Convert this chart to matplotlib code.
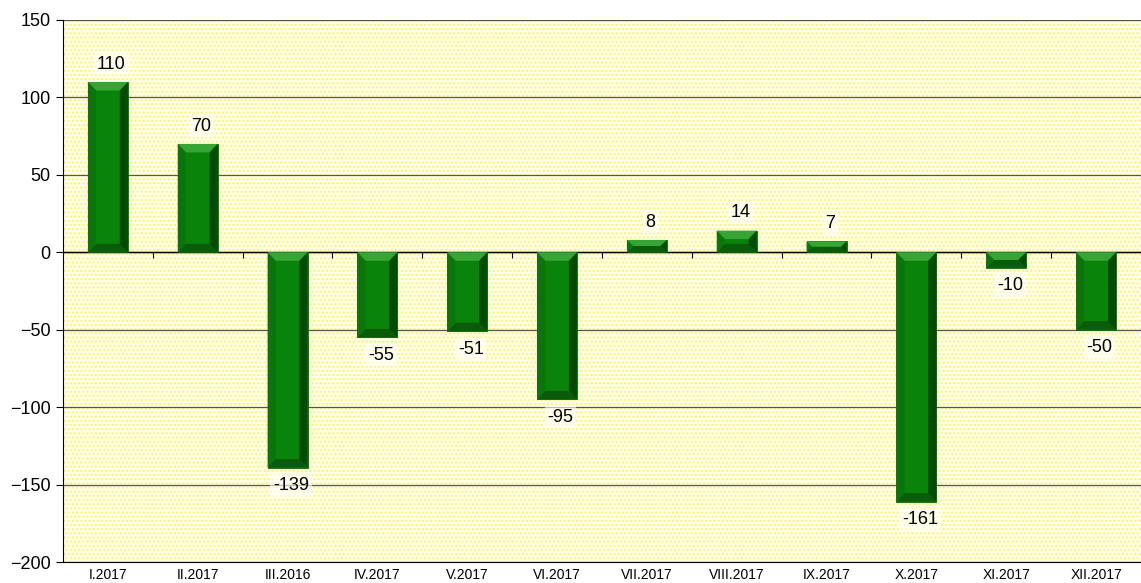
import numpy as np
import matplotlib.pyplot as plt
from matplotlib.patches import Polygon, Rectangle
from matplotlib.markers import TICKDOWN

plt.rcParams['font.family'] = ['Liberation Sans', 'DejaVu Sans']

months = ['I.2017', 'II.2017', 'III.2016', 'IV.2017', 'V.2017', 'VI.2017',
          'VII.2017', 'VIII.2017', 'IX.2017', 'X.2017', 'XI.2017', 'XII.2017']
values = [110, 70, -139, -55, -51, -95, 8, 14, 7, -161, -10, -50]

fig = plt.figure(figsize=(11.41, 5.83), dpi=100)
ax = fig.add_axes([0.0552, 0.036, 0.9448, 0.9297])
ax.set_xlim(-0.5, 11.5)
ax.set_ylim(-200, 150)

# dotted yellow background
ax.set_facecolor('#FFFFE8')
ax.add_patch(Rectangle((0, 0), 1, 1, transform=ax.transAxes, facecolor='none',
                       edgecolor='#FFF070', hatch='....', lw=0, zorder=0))

ax.set_yticks(np.arange(-200, 151, 50))
ax.grid(axis='y', color='#555555', lw=0.9, zorder=1)
ax.axhline(0, color='black', lw=1, zorder=2)
for s in ['right', 'top']:
    ax.spines[s].set_visible(False)
ax.spines['left'].set_color('black')
ax.spines['bottom'].set_color('black')
ax.tick_params(axis='y', labelsize=13, length=5, width=0.8, direction='out', pad=4)
ax.set_xticks(range(len(months)), months)
ax.tick_params(axis='x', labelsize=10, length=0, pad=4)

# small ticks on the zero line between categories
bounds = np.arange(len(months) - 1) + 0.5
ax.plot(bounds, np.zeros(len(bounds)), ls='none', marker=TICKDOWN,
        color='black', ms=4, mew=0.8, zorder=3)

w = 0.445
bx = 0.09   # horizontal bevel (x units)
by = 5.5    # vertical bevel (data units)
for i, v in enumerate(values):
    x0, x1 = i - w / 2, i + w / 2
    lo, hi = min(0, v), max(0, v)
    b = min(by, abs(v) / 2)
    bxx = min(bx, b * 0.018)
    ax.add_patch(Rectangle((x0, lo), w, hi - lo, facecolor='#0A830A',
                           edgecolor='#0A6A0A', lw=0.6, zorder=4))
    # top bevel (lighter)
    ax.add_patch(Polygon([(x0, hi), (x1, hi), (x1 - bxx, hi - b), (x0 + bxx, hi - b)],
                         closed=True, facecolor='#36A536', lw=0, zorder=5))
    # bottom bevel (darker)
    ax.add_patch(Polygon([(x0, lo), (x1, lo), (x1 - bxx, lo + b), (x0 + bxx, lo + b)],
                         closed=True, facecolor='#0A5C0A', lw=0, zorder=5))
    # right side (dark)
    ax.add_patch(Polygon([(x1, hi), (x1, lo), (x1 - bxx, lo + b), (x1 - bxx, hi - b)],
                         closed=True, facecolor='#044A04', lw=0, zorder=5))
    # left side (slightly dark)
    ax.add_patch(Polygon([(x0, hi), (x0, lo), (x0 + bxx, lo + b), (x0 + bxx, hi - b)],
                         closed=True, facecolor='#0A750A', lw=0, zorder=5))
    if v >= 0:
        ty, va = v + 6, 'bottom'
    else:
        ty, va = v - 6, 'top'
    ax.text(i + 0.04, ty, str(v), ha='center', va=va, fontsize=13, zorder=6,
            bbox=dict(boxstyle='square,pad=0.15', facecolor='white',
                      edgecolor='none', alpha=0.6))

fig.savefig('out.png', dpi=100)
